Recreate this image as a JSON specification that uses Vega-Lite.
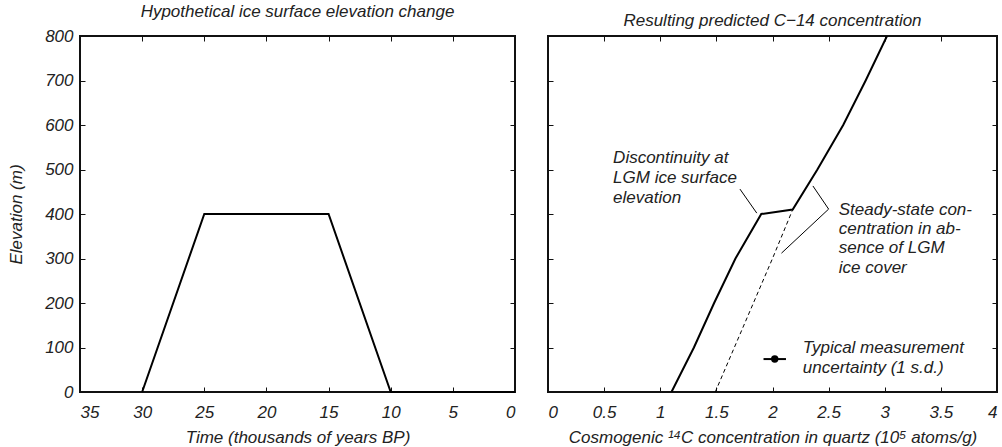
{
  "$schema": "https://vega.github.io/schema/vega-lite/v6.json",
  "padding": {"left": 6, "top": 2, "right": 0, "bottom": 0},
  "spacing": 26,
  "datasets": {
    "ice": [
      {"time": 30, "elev": 0},
      {"time": 25, "elev": 400},
      {"time": 15, "elev": 400},
      {"time": 10, "elev": 0},
      {"time": 0, "elev": 0}
    ],
    "solid": [
      {"conc": 1.10, "elev": 0},
      {"conc": 1.30, "elev": 100},
      {"conc": 1.48, "elev": 200},
      {"conc": 1.67, "elev": 300},
      {"conc": 1.90, "elev": 400},
      {"conc": 2.18, "elev": 410},
      {"conc": 2.40, "elev": 500},
      {"conc": 2.63, "elev": 600},
      {"conc": 2.83, "elev": 700},
      {"conc": 3.02, "elev": 800}
    ],
    "dashed": [
      {"conc": 1.49, "elev": 0},
      {"conc": 1.66, "elev": 100},
      {"conc": 1.83, "elev": 200},
      {"conc": 2.00, "elev": 300},
      {"conc": 2.18, "elev": 410}
    ],
    "labels": [
      {"conc": 0.58, "elev": 526, "text": "Discontinuity at"},
      {"conc": 0.58, "elev": 481, "text": "LGM ice surface"},
      {"conc": 0.58, "elev": 436, "text": "elevation"},
      {"conc": 2.59, "elev": 409, "text": "Steady-state con-"},
      {"conc": 2.59, "elev": 367, "text": "centration in ab-"},
      {"conc": 2.59, "elev": 324, "text": "sence of LGM"},
      {"conc": 2.59, "elev": 279, "text": "ice cover"},
      {"conc": 2.27, "elev": 99, "text": "Typical measurement"},
      {"conc": 2.27, "elev": 54, "text": "uncertainty (1 s.d.)"}
    ],
    "leaders": [
      {"x1": 1.71, "y1": 456, "x2": 1.86, "y2": 402},
      {"x1": 2.36, "y1": 463, "x2": 2.50, "y2": 411},
      {"x1": 2.50, "y1": 411, "x2": 2.08, "y2": 312}
    ],
    "errbar": [
      {"lo": 1.92, "hi": 2.12, "mid": 2.02, "elev": 74}
    ]
  },
  "config": {
    "font": "Liberation Sans",
    "view": {"stroke": "#111", "strokeWidth": 2},
    "axis": {
      "domain": false,
      "grid": false,
      "tickColor": "#111",
      "tickWidth": 1,
      "tickSize": -5,
      "labelFont": "Liberation Sans",
      "labelFontStyle": "italic",
      "labelFontSize": 17,
      "labelColor": "#222",
      "titleFont": "Liberation Sans",
      "titleFontStyle": "italic",
      "titleFontWeight": "normal",
      "titleFontSize": 17,
      "titleColor": "#222"
    },
    "title": {"font": "Liberation Sans", "fontStyle": "italic", "fontWeight": "normal", "fontSize": 17, "color": "#222", "offset": 6}
  },
  "hconcat": [
    {
      "width": 435,
      "height": 356,
      "title": "Hypothetical ice surface elevation change",
      "layer": [
        {
          "data": {"name": "ice"},
          "mark": {"type": "line", "color": "#000", "strokeWidth": 2},
          "encoding": {
            "x": {"field": "time", "type": "quantitative", "scale": {"domain": [35, 0], "nice": false},
                  "axis": {"orient": "bottom", "values": [35, 30, 25, 20, 15, 10, 5, 0], "labelPadding": 17, "title": "Time (thousands of years BP)", "titlePadding": 9}},
            "y": {"field": "elev", "type": "quantitative", "scale": {"domain": [0, 800], "nice": false},
                  "axis": {"orient": "left", "values": [0, 100, 200, 300, 400, 500, 600, 700, 800], "labelPadding": 12, "title": "Elevation (m)", "titlePadding": 19}}
          }
        },
        {
          "data": {"name": "ice"},
          "mark": {"type": "point", "opacity": 0},
          "encoding": {
            "x": {"field": "time", "type": "quantitative", "axis": {"orient": "top", "values": [35, 30, 25, 20, 15, 10, 5, 0], "labels": false, "title": null}},
            "y": {"field": "elev", "type": "quantitative", "axis": {"orient": "right", "values": [0, 100, 200, 300, 400, 500, 600, 700, 800], "labels": false, "title": null}}
          }
        }
      ]
    },
    {
      "width": 449,
      "height": 356,
      "title": "Resulting predicted C\u221214 concentration",
      "layer": [
        {
          "data": {"name": "dashed"},
          "mark": {"type": "line", "color": "#000", "strokeWidth": 1, "strokeDash": [4, 3]},
          "encoding": {
            "x": {"field": "conc", "type": "quantitative", "scale": {"domain": [0, 4], "nice": false},
                  "axis": {"orient": "bottom", "values": [0, 0.5, 1, 1.5, 2, 2.5, 3, 3.5, 4], "format": "~g", "labelPadding": 17, "title": "Cosmogenic \u00b9\u2074C concentration in quartz (10\u2075 atoms/g)", "titlePadding": 9}},
            "y": {"field": "elev", "type": "quantitative", "scale": {"domain": [0, 800], "nice": false},
                  "axis": {"orient": "left", "values": [0, 100, 200, 300, 400, 500, 600, 700, 800], "labels": false, "title": null}}
          }
        },
        {
          "data": {"name": "solid"},
          "mark": {"type": "line", "color": "#000", "strokeWidth": 2, "clip": true},
          "encoding": {
            "x": {"field": "conc", "type": "quantitative", "axis": {"orient": "top", "values": [0, 0.5, 1, 1.5, 2, 2.5, 3, 3.5, 4], "labels": false, "title": null}},
            "y": {"field": "elev", "type": "quantitative", "axis": {"orient": "right", "values": [0, 100, 200, 300, 400, 500, 600, 700, 800], "labels": false, "title": null}}
          }
        },
        {
          "data": {"name": "leaders"},
          "mark": {"type": "rule", "color": "#000", "strokeWidth": 1},
          "encoding": {
            "x": {"field": "x1", "type": "quantitative", "axis": null},
            "y": {"field": "y1", "type": "quantitative", "axis": null},
            "x2": {"field": "x2"},
            "y2": {"field": "y2"}
          }
        },
        {
          "data": {"name": "errbar"},
          "mark": {"type": "rule", "color": "#000", "strokeWidth": 2},
          "encoding": {
            "x": {"field": "lo", "type": "quantitative", "axis": null},
            "x2": {"field": "hi"},
            "y": {"field": "elev", "type": "quantitative", "axis": null}
          }
        },
        {
          "data": {"name": "errbar"},
          "mark": {"type": "point", "filled": true, "color": "#000", "size": 55, "opacity": 1},
          "encoding": {
            "x": {"field": "mid", "type": "quantitative", "axis": null},
            "y": {"field": "elev", "type": "quantitative", "axis": null}
          }
        },
        {
          "data": {"name": "labels"},
          "mark": {"type": "text", "align": "left", "baseline": "middle", "font": "Liberation Sans", "fontStyle": "italic", "fontSize": 17, "color": "#222"},
          "encoding": {
            "x": {"field": "conc", "type": "quantitative", "axis": null},
            "y": {"field": "elev", "type": "quantitative", "axis": null},
            "text": {"field": "text"}
          }
        }
      ]
    }
  ]
}
